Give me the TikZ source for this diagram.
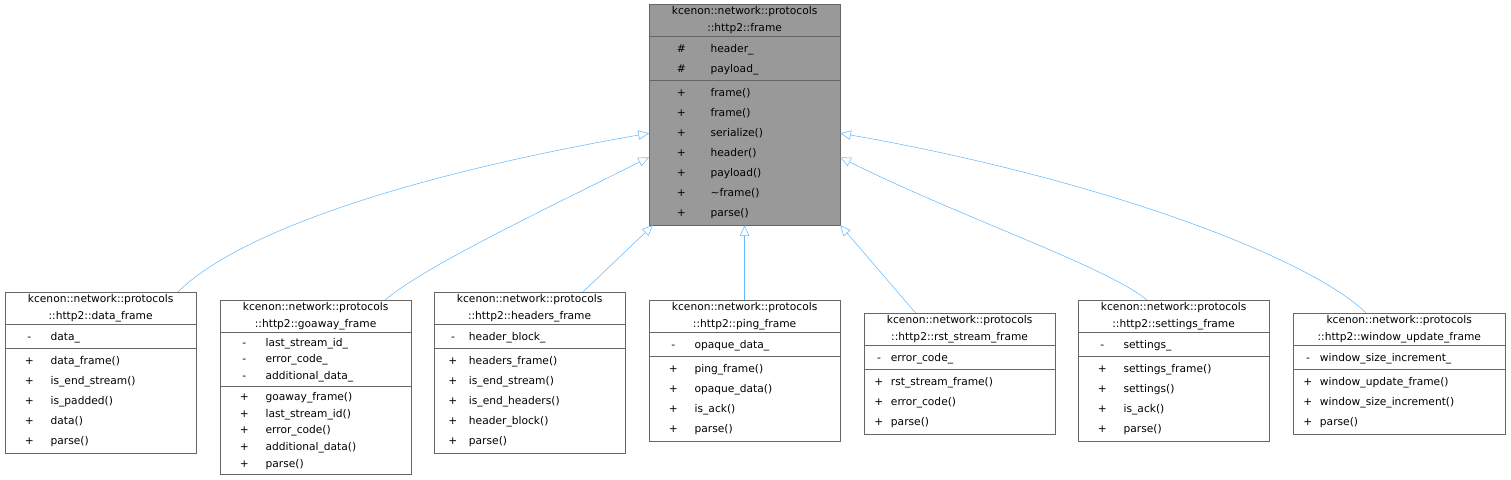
\documentclass[tikz,border=0pt]{standalone}
\usepackage{fontspec}
\setmainfont{DejaVu Sans}
\usepackage{array}
\usetikzlibrary{shapes.multipart, arrows.meta}
\definecolor{boxline}{HTML}{666666}
\definecolor{basefill}{HTML}{999999}
\definecolor{arrowblue}{HTML}{63B8FF}
\renewcommand{\arraystretch}{1.2}
% member list: width of visibility column, rows
\newcommand{\memb}[2]{\makebox[\linewidth][l]{\begin{tabular}{@{}>{\centering\arraybackslash}p{#1}@{}l@{}}#2\end{tabular}}}

\begin{document}
\begin{tikzpicture}[x=0.75pt, y=-0.75pt,
        cls/.style={draw=boxline, fill=white, rectangle split, rectangle split parts=3,
            rectangle split draw splits=true, text width=#1, inner xsep=2pt, inner ysep=1.5pt,
            anchor=north west, align=center, font=\fontsize{8}{12.5}\selectfont},
        inh/.style={draw=arrowblue, -{Triangle[open, length=8pt, width=7pt]}}
    ]
        \useasboundingbox (0,0) rectangle (1511,479);

        % Base class
        \node[cls=139pt, fill=basefill] (frame) at (649,4) {kcenon::network::protocols\\::http2::frame
            \nodepart{two}\memb{44pt}{\#&header\_\\ \#&payload\_}
            \nodepart{three}\memb{44pt}{+&frame()\\ +&frame()\\ +&serialize()\\ +&header()\\ +&payload()\\ +&\textasciitilde frame()\\ +&parse()}};

        % Derived classes
        \node[cls=139pt] (data) at (5,292) {kcenon::network::protocols\\::http2::data\_frame
            \nodepart{two}\memb{32pt}{-&data\_}
            \nodepart{three}\memb{32pt}{+&data\_frame()\\ +&is\_end\_stream()\\ +&is\_padded()\\ +&data()\\ +&parse()}};
        \node[cls=139pt, font=\fontsize{8}{12.5}\selectfont\renewcommand{\arraystretch}{1.0}] (goaway) at (220,300) {kcenon::network::protocols\\::http2::goaway\_frame
            \nodepart{two}\memb{32pt}{-&last\_stream\_id\_\\ -&error\_code\_\\ -&additional\_data\_}
            \nodepart{three}\memb{32pt}{+&goaway\_frame()\\ +&last\_stream\_id()\\ +&error\_code()\\ +&additional\_data()\\ +&parse()}};
        \node[cls=139pt] (headers) at (434,292) {kcenon::network::protocols\\::http2::headers\_frame
            \nodepart{two}\memb{24pt}{-&header\_block\_}
            \nodepart{three}\memb{24pt}{+&headers\_frame()\\ +&is\_end\_stream()\\ +&is\_end\_headers()\\ +&header\_block()\\ +&parse()}};
        \node[cls=139pt] (ping) at (649,300) {kcenon::network::protocols\\::http2::ping\_frame
            \nodepart{two}\memb{32pt}{-&opaque\_data\_}
            \nodepart{three}\memb{32pt}{+&ping\_frame()\\ +&opaque\_data()\\ +&is\_ack()\\ +&parse()}};
        \node[cls=139pt] (rst) at (864,313) {kcenon::network::protocols\\::http2::rst\_stream\_frame
            \nodepart{two}\memb{18pt}{-&error\_code\_}
            \nodepart{three}\memb{18pt}{+&rst\_stream\_frame()\\ +&error\_code()\\ +&parse()}};
        \node[cls=139pt] (settings) at (1078,300) {kcenon::network::protocols\\::http2::settings\_frame
            \nodepart{two}\memb{32pt}{-&settings\_}
            \nodepart{three}\memb{32pt}{+&settings\_frame()\\ +&settings()\\ +&is\_ack()\\ +&parse()}};
        \node[cls=155pt] (window) at (1293,313) {kcenon::network::protocols\\::http2::window\_update\_frame
            \nodepart{two}\memb{18pt}{-&window\_size\_increment\_}
            \nodepart{three}\memb{18pt}{+&window\_update\_frame()\\ +&window\_size\_increment()\\ +&parse()}};

        % Inheritance
        \draw[inh] ([xshift=58pt]data.north) .. controls +(40pt,40pt) and +(-200pt,-35pt) .. ([yshift=-14pt]frame.west);
        \draw[inh] ([xshift=52pt]goaway.north) .. controls +(30pt,25pt) and +(-90pt,-45pt) .. ([yshift=-32pt]frame.west);
        \draw[inh] ([xshift=40pt]headers.north) -- ([xshift=3pt]frame.south west);
        \draw[inh] (ping.north) -- (frame.south);
        \draw[inh] ([xshift=-33pt]rst.north) -- (frame.south east);
        \draw[inh] ([xshift=-20pt]settings.north) .. controls +(-30pt,25pt) and +(90pt,-45pt) .. ([yshift=-32pt]frame.east);
        \draw[inh] ([xshift=-25pt]window.north) .. controls +(-40pt,40pt) and +(200pt,-35pt) .. ([yshift=-14pt]frame.east);
    \end{tikzpicture}
\end{document}
